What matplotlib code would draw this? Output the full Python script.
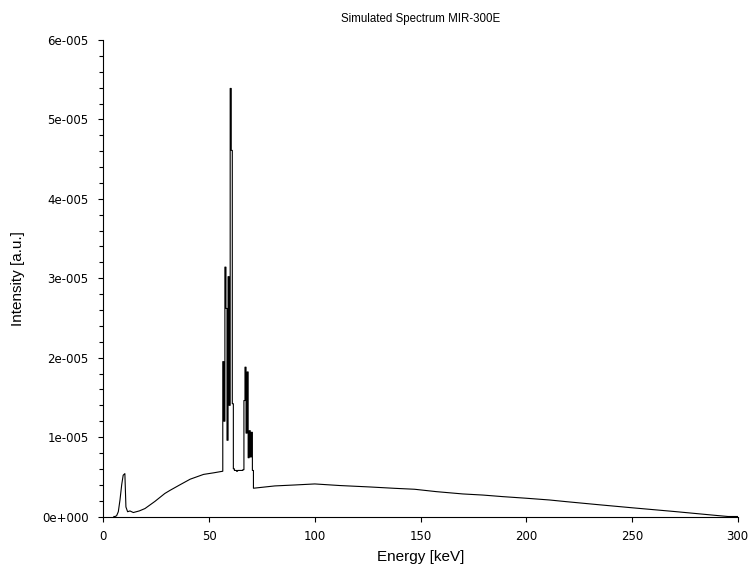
import numpy as np
import matplotlib
matplotlib.use("Agg")
import matplotlib.pyplot as plt
from matplotlib.ticker import MultipleLocator, FuncFormatter

# spectrum, intensity in units of 1e-5
low_energy = [5.0, 5.6, 6.3, 7.1, 7.9, 8.7, 9.4, 10.2, 10.7, 11.5, 12.6, 14.2,
              17.0, 19.7, 24.4, 29.1, 31.6, 36.3, 41.1, 47.4, 52.2, 56.5]
low_intensity = [0.0, 0.0, 0.01, 0.06, 0.21, 0.40, 0.52, 0.54, 0.12, 0.06, 0.07, 0.05,
                 0.07, 0.10, 0.19, 0.29, 0.33, 0.40, 0.47, 0.53, 0.55, 0.57]

# K lines region, 0.5 keV bins from 56.5 to 71.0 keV
line_edges = np.arange(56.5, 71.01, 0.5)
line_intensity = [1.95, 1.20, 3.14, 2.62, 0.96, 3.02, 1.40, 5.39, 4.61, 1.42,
                  0.60, 0.58, 0.58, 0.57, 0.58, 0.58, 0.58, 0.58, 0.58, 0.59,
                  1.46, 1.88, 1.05, 1.82, 0.74, 1.08, 0.75, 1.06, 0.58]

high_energy = [71.0, 81.1, 90.6, 100.0, 111.8, 126.0, 137.7, 147.2, 157.5, 170.0,
               179.5, 189.0, 200.0, 211.0, 218.9, 234.8, 250.0, 270.0, 290.0, 295.4, 300.0]
high_intensity = [0.356, 0.385, 0.397, 0.41, 0.39, 0.372, 0.355, 0.343, 0.313, 0.284,
                  0.27, 0.25, 0.23, 0.208, 0.187, 0.147, 0.11, 0.063, 0.013, 0.0, 0.0]

# step path for the line region
step_x = np.repeat(line_edges, 2)[1:-1]
step_y = np.repeat(line_intensity, 2)

energy = np.concatenate([low_energy, step_x, high_energy])
intensity = np.concatenate([low_intensity, step_y, high_intensity]) * 1e-5

plt.rcParams['font.family'] = ['Liberation Sans', 'DejaVu Sans']

fig = plt.figure(figsize=(7.49, 5.72), dpi=100)
ax = fig.add_axes([103.3 / 749, 55.5 / 572, 634.4 / 749, 476.5 / 572])

ax.plot(energy, intensity, color='black', linewidth=0.8)

ax.set_xlim(0, 300)
ax.set_ylim(0, 6e-5)
ax.xaxis.set_major_locator(MultipleLocator(50))
ax.yaxis.set_major_locator(MultipleLocator(1e-5))
ax.yaxis.set_minor_locator(MultipleLocator(2e-6))


def sci_fmt(v, pos):
    if abs(v) < 1e-12:
        return "0e+000"
    mant, exp = f"{v:.0e}".split("e")
    return f"{mant}e{int(exp):+04d}"


ax.yaxis.set_major_formatter(FuncFormatter(sci_fmt))

for side in ['top', 'right']:
    ax.spines[side].set_visible(False)
for side in ['left', 'bottom']:
    ax.spines[side].set_linewidth(0.8)

ax.tick_params(axis='both', which='major', direction='out', length=3.5, width=0.8)
ax.tick_params(axis='y', which='minor', direction='out', length=3, width=0.8)
ax.tick_params(axis='x', pad=6)
ax.tick_params(axis='y', pad=7)
for lbl in ax.get_xticklabels() + ax.get_yticklabels():
    lbl.set_fontfamily('DejaVu Sans')
    lbl.set_fontsize(8.5)

ax.set_title("Simulated Spectrum MIR-300E", fontsize=8.3, pad=13)
ax.set_xlabel("Energy [keV]", fontsize=11)
ax.set_ylabel("Intensity [a.u.]", fontsize=11)
ax.xaxis.set_label_coords(0.5, -0.07)
ax.yaxis.set_label_coords(-0.123, 0.5)

fig.savefig("out.png", dpi=100)
